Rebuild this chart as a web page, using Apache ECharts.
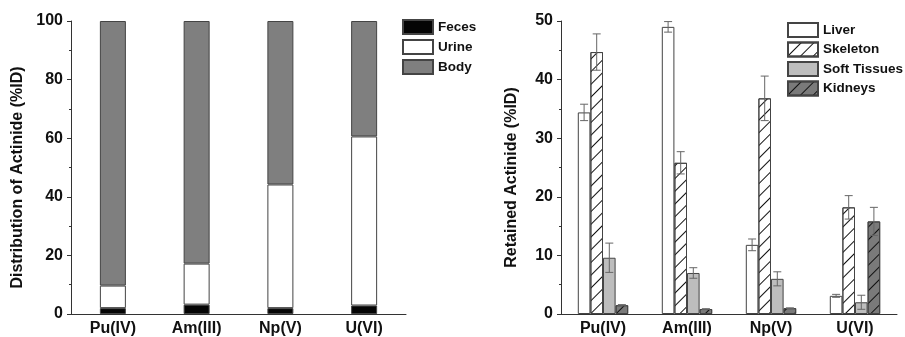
<!DOCTYPE html>
<html>
<head>
<meta charset="utf-8">
<script src="https://cdn.jsdelivr.net/npm/echarts@6/dist/echarts.min.js"></script>
<style>
  html, body { margin: 0; padding: 0; background: #fff; }
  #chart { width: 905px; height: 337px; }
</style>
</head>
<body>
<div id="chart"></div>
<script>
// categories (same for both panels)
const actinides = ["Pu(IV)", "Am(III)", "Np(V)", "U(VI)"];

// left panel: distribution (%ID), stacked
const feces = [2.0, 3.2, 2.0, 2.9];
const urine = [7.7, 14.0, 42.2, 57.7];
const body = [90.3, 82.8, 55.8, 39.4];

// right panel: retained actinide (%ID) and errors
const liver = [34.4, 49.0, 11.8, 3.1];
const liverErr = [1.4, 0.9, 1.0, 0.25];
const skeleton = [44.7, 25.8, 36.8, 18.2];
const skeletonErr = [3.1, 1.9, 3.8, 2.0];
const softTissues = [9.6, 7.0, 6.0, 2.0];
const softTissuesErr = [2.5, 0.9, 1.2, 1.2];
const kidneys = [1.5, 0.85, 1.0, 15.8];
const kidneysErr = [0.1, 0.05, 0.05, 2.4];

const leftTicks = [0, 20, 40, 60, 80, 100];
const rightTicks = [0, 10, 20, 30, 40, 50];

const FONT = "Liberation Sans, Arial, sans-serif";
const AXIS_COLOR = "#333";
const BAR_W = 12.6;

const hatch = {
  symbol: "rect",
  symbolSize: 1,
  dashArrayX: [1, 0],
  dashArrayY: [1, 8],
  rotation: -Math.PI / 4,
  color: "#111",
};

function yAxisCfg(grid, name, ticks, gap) {
  return {
    type: "value",
    gridIndex: grid,
    min: ticks[0],
    max: ticks[ticks.length - 1],
    interval: ticks[1] - ticks[0],
    name: name,
    nameLocation: "middle",
    nameGap: gap,
    nameTextStyle: {
      fontFamily: FONT,
      fontWeight: "bold",
      fontSize: 16,
      color: "#111",
      padding: [0, 20, 0, 0],
    },
    axisLine: { show: true, lineStyle: { color: AXIS_COLOR, width: 1 } },
    axisTick: { show: true, length: 4, lineStyle: { color: AXIS_COLOR } },
    minorTick: { show: true, splitNumber: 2, length: 2, lineStyle: { color: AXIS_COLOR } },
    splitLine: { show: false },
    axisLabel: {
      fontFamily: FONT,
      fontWeight: "bold",
      fontSize: 16,
      color: "#111",
      margin: 8,
    },
  };
}

function xAxisCfg(grid) {
  return {
    type: "category",
    gridIndex: grid,
    data: actinides,
    axisLine: { lineStyle: { color: AXIS_COLOR, width: 1 } },
    axisTick: { show: false },
    axisLabel: {
      fontFamily: FONT,
      fontWeight: "bold",
      fontSize: 16,
      color: "#111",
      margin: 7,
      interval: 0,
    },
  };
}

function barSeries(name, data, color, extra) {
  return Object.assign(
    {
      name: name,
      type: "bar",
      xAxisIndex: 1,
      yAxisIndex: 1,
      data: data,
      barWidth: BAR_W,
      barGap: "0%",
      itemStyle: { color: color, borderColor: "#444", borderWidth: 1 },
    },
    extra || {}
  );
}

function errSeries(values, errs, k) {
  return {
    type: "custom",
    xAxisIndex: 1,
    yAxisIndex: 1,
    z: 5,
    silent: true,
    data: values.map((v, i) => [i, v, errs[i]]),
    renderItem: function (params, api) {
      const i = api.value(0);
      const v = api.value(1);
      const e = api.value(2);
      const top = api.coord([i, v + e]);
      const bot = api.coord([i, v - e]);
      const x = top[0] + (k - 1.5) * BAR_W;
      const cap = 4;
      const style = { stroke: "#666", lineWidth: 1 };
      return {
        type: "group",
        children: [
          { type: "line", shape: { x1: x, y1: top[1], x2: x, y2: bot[1] }, style: style },
          { type: "line", shape: { x1: x - cap, y1: top[1], x2: x + cap, y2: top[1] }, style: style },
          { type: "line", shape: { x1: x - cap, y1: bot[1], x2: x + cap, y2: bot[1] }, style: style },
        ],
      };
    },
  };
}

const legendText = { fontFamily: FONT, fontWeight: "bold", fontSize: 13.5, color: "#111" };

const option = {
  animation: false,
  backgroundColor: "#fff",
  grid: [
    { left: 71, right: 499, top: 21, bottom: 21 },
    { left: 561, right: 8, top: 21, bottom: 21 },
  ],
  legend: [
    {
      data: ["Feces", "Urine", "Body"],
      orient: "vertical",
      left: 402,
      top: 19,
      padding: 0,
      icon: "rect",
      itemWidth: 30,
      itemHeight: 14,
      itemGap: 4,
      textStyle: legendText,
    },
    {
      data: ["Liver", "Skeleton", "Soft Tissues", "Kidneys"],
      orient: "vertical",
      left: 787,
      top: 22,
      padding: 0,
      icon: "rect",
      itemWidth: 30,
      itemHeight: 14,
      itemGap: 3.5,
      textStyle: legendText,
    },
  ],
  xAxis: [xAxisCfg(0), xAxisCfg(1)],
  yAxis: [
    yAxisCfg(0, "Distribution of Actinide (%ID)", leftTicks, 45),
    yAxisCfg(1, "Retained Actinide (%ID)", rightTicks, 41),
  ],
  series: [
    {
      name: "Feces", type: "bar", stack: "dist", data: feces, barWidth: 26,
      itemStyle: { color: "#050505", borderColor: "#444", borderWidth: 1 },
    },
    {
      name: "Urine", type: "bar", stack: "dist", data: urine, barWidth: 26,
      itemStyle: { color: "#fff", borderColor: "#444", borderWidth: 1 },
    },
    {
      name: "Body", type: "bar", stack: "dist", data: body, barWidth: 26,
      itemStyle: { color: "#7f7f7f", borderColor: "#444", borderWidth: 1 },
    },
    barSeries("Liver", liver, "#fff"),
    barSeries("Skeleton", skeleton, "#fff", {
      itemStyle: { color: "#fff", borderColor: "#444", borderWidth: 1, decal: hatch },
    }),
    barSeries("Soft Tissues", softTissues, "#bdbdbd"),
    barSeries("Kidneys", kidneys, "#7a7a7a", {
      itemStyle: { color: "#7a7a7a", borderColor: "#444", borderWidth: 1, decal: hatch },
    }),
    errSeries(liver, liverErr, 0),
    errSeries(skeleton, skeletonErr, 1),
    errSeries(softTissues, softTissuesErr, 2),
    errSeries(kidneys, kidneysErr, 3),
  ],
};

const chart = echarts.init(document.getElementById("chart"));
chart.setOption(option);
window.addEventListener("resize", () => chart.resize());
</script>
</body>
</html>
